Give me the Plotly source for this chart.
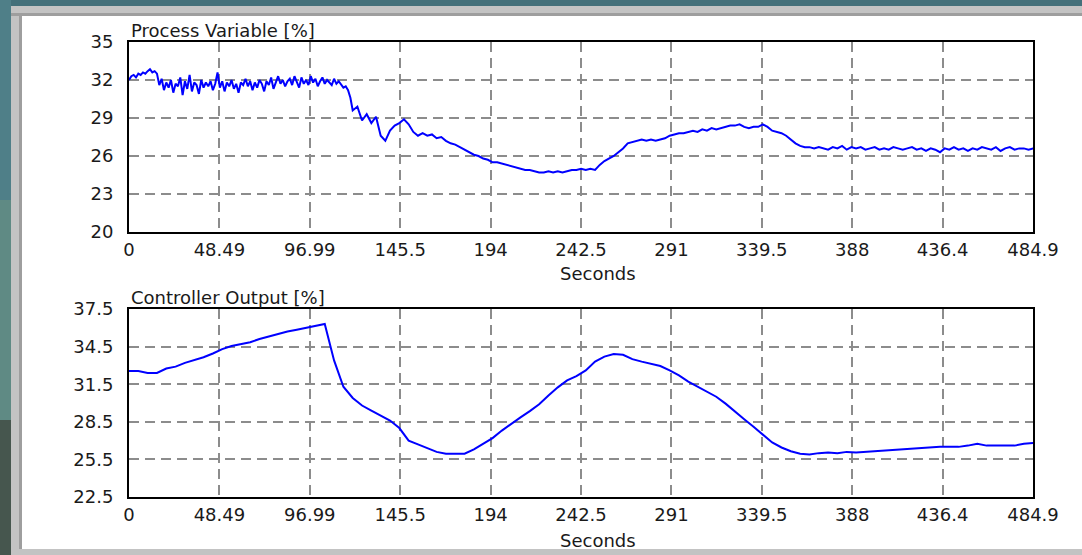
import plotly.graph_objects as go

# ---- data -------------------------------------------------------------
# process variable: fast sampling during the first two minutes, then slower
PV_FAST_DT = 1.25
PV_SLOW_DT = 2.5
PV_SLOW_START = 120.0
CO_DT = 5.0

pv_fast = [
    32.0, 32.3, 32.4, 32.2, 32.5, 32.4, 32.6, 32.5, 32.7, 32.85,
    32.6, 32.7, 32.5,
    31.6, 32.1, 31.2, 31.8, 31.4, 32.0, 31.0, 31.7, 31.5, 32.2,
    30.8, 31.9, 31.3, 32.4, 31.1, 31.8, 31.6, 30.9, 32.0, 31.4,
    31.8, 31.5, 31.9, 31.2, 31.7, 32.6, 31.4, 31.9, 31.1, 31.8,
    31.5, 32.0, 31.3, 31.7, 31.0, 31.8, 31.6, 32.1, 31.5, 31.9,
    31.2, 31.8, 31.4, 32.0, 31.7, 31.1, 31.9, 31.6, 32.2, 31.3,
    31.8, 32.3, 31.7, 32.0, 31.5, 31.9, 32.1, 31.6, 32.3, 31.8,
    31.4, 32.2, 31.7, 32.0, 31.6, 32.3, 31.8, 32.1, 31.5, 31.9,
    32.2, 31.7, 32.0, 31.8, 31.6, 32.1, 31.7, 31.9, 31.6, 31.4,
    31.5, 31.2, 30.6,
]

pv_slow = [
    29.6, 29.9, 28.8, 29.3, 28.6, 29.1, 27.6, 27.2, 28.0, 28.4,
    28.6, 28.9, 28.5, 27.9, 27.6, 27.8, 27.6, 27.7, 27.4, 27.5,
    27.2, 27.0, 26.9, 26.7, 26.5, 26.3, 26.1, 26.0, 25.8, 25.7,
    25.5, 25.5, 25.4, 25.3, 25.2, 25.1, 25.0, 24.9, 24.9, 24.8,
    24.7, 24.7, 24.8, 24.7, 24.8, 24.7, 24.8, 24.9, 24.9, 25.0,
    24.9, 25.0, 24.9, 25.3, 25.6, 25.8, 26.0, 26.3, 26.6, 27.0,
    27.1, 27.2, 27.3, 27.2, 27.3, 27.2, 27.3, 27.4, 27.6, 27.7,
    27.8, 27.8, 27.9, 28.0, 27.9, 28.1, 28.0, 28.2, 28.1, 28.2,
    28.3, 28.4, 28.4, 28.5, 28.3, 28.2, 28.3, 28.3, 28.5, 28.3,
    28.0, 27.9, 27.8, 27.6, 27.3, 27.0, 26.8, 26.7, 26.7, 26.6,
    26.7, 26.6, 26.5, 26.7, 26.6, 26.8, 26.5, 26.7, 26.6, 26.7,
    26.5, 26.6, 26.7, 26.5, 26.6, 26.5, 26.7, 26.6, 26.5, 26.6,
    26.7, 26.5, 26.6, 26.4, 26.6, 26.5, 26.3, 26.6, 26.5, 26.7,
    26.5, 26.6, 26.4, 26.6, 26.5, 26.7, 26.6, 26.5, 26.7, 26.4,
    26.6, 26.7, 26.5, 26.6, 26.6, 26.5, 26.6,
]

controller_output = [
    32.55, 32.55, 32.4, 32.4, 32.75, 32.9, 33.2, 33.4, 33.65, 33.95,
    34.3, 34.55, 34.7, 34.85, 35.1, 35.3, 35.55, 35.7, 35.85, 36.0,
    36.1, 36.3, 33.4, 31.3, 30.4, 29.8, 29.4, 29.0, 28.6, 28.0,
    27.0, 26.7, 26.4, 26.1, 25.95, 25.93, 25.95, 26.3, 26.75, 27.2,
    27.8, 28.35, 28.85, 29.35, 29.9, 30.6, 31.25, 31.8, 32.15, 32.6,
    33.3, 33.7, 33.9, 33.85, 33.5, 33.3, 33.15, 32.95, 32.6, 32.2,
    31.7, 31.3, 30.9, 30.5, 29.95, 29.3, 28.7, 28.1, 27.5, 26.85,
    26.45, 26.15, 25.95, 25.9, 26.0, 26.05, 26.0, 26.1, 26.05, 26.1,
    26.15, 26.2, 26.25, 26.3, 26.35, 26.45, 26.45, 26.5, 26.5, 26.5,
    26.6, 26.75, 26.6, 26.6, 26.55, 26.6, 26.75, 26.8,
]

time_pv = ([i * PV_FAST_DT for i in range(len(pv_fast))]
           + [PV_SLOW_START + i * PV_SLOW_DT for i in range(len(pv_slow))])
process_variable = pv_fast + pv_slow
time_co = [i * CO_DT for i in range(len(controller_output))]

x_max = 484.9
x_tick_text = ["0", "48.49", "96.99", "145.5", "194", "242.5",
               "291", "339.5", "388", "436.4", "484.9"]
pv_ticks = [20, 23, 26, 29, 32, 35]
co_ticks = [22.5, 25.5, 28.5, 31.5, 34.5, 37.5]

# ---- page geometry (pixels) -------------------------------------------
W, H = 1082, 555
FONT = "DejaVu Sans"


def fx(px):
    return px / W


def fy(py):
    return 1 - py / H


fig = go.Figure()

fig.add_trace(go.Scatter(x=time_pv, y=process_variable, mode="lines",
                         line=dict(color="#0000ff", width=2),
                         xaxis="x", yaxis="y", showlegend=False))
fig.add_trace(go.Scatter(x=time_co, y=controller_output, mode="lines",
                         line=dict(color="#0000ff", width=2),
                         xaxis="x2", yaxis="y2", showlegend=False))

x_ticks = [i * x_max / 10 for i in range(11)]

common_x = dict(range=[0, x_max], tickmode="array", tickvals=x_ticks,
                ticktext=x_tick_text, showline=True, mirror=True,
                linecolor="black", linewidth=2, showgrid=True,
                gridcolor="#8c8c8c", gridwidth=2, griddash="10px,6px",
                zeroline=False, ticks="", ticklabelstandoff=0,
                automargin=False,
                tickfont=dict(family=FONT, size=18, color="#1a1a1a"),
                fixedrange=True)
common_y = dict(showline=True, mirror=True, linecolor="black", linewidth=2,
                showgrid=True, gridcolor="#8c8c8c", gridwidth=2,
                griddash="10px,6px", zeroline=False, ticks="",
                ticklabelstandoff=10, tickmode="array", automargin=False,
                tickfont=dict(family=FONT, size=18, color="#1a1a1a"),
                fixedrange=True)

fig.update_layout(
    width=W, height=H,
    margin=dict(l=0, r=0, t=0, b=0, autoexpand=False),
    paper_bgcolor="#44707a",
    plot_bgcolor="white",
    xaxis=dict(domain=[fx(129), fx(1033)], anchor="y", **common_x),
    yaxis=dict(domain=[fy(232), fy(42)], anchor="x", range=[20, 35],
               tickvals=pv_ticks, **common_y),
    xaxis2=dict(domain=[fx(129), fx(1033)], anchor="y2", **common_x),
    yaxis2=dict(domain=[fy(497), fy(309)], anchor="x2", range=[22.5, 37.5],
                tickvals=co_ticks, **common_y),
)

# window background: desktop strip, grey frame, white client area
shapes = [
    dict(x0=0, x1=11, y0=0, y1=200, color="#4f7f88"),
    dict(x0=0, x1=11, y0=200, y1=420, color="#5f8a84"),
    dict(x0=0, x1=11, y0=420, y1=555, color="#46564e"),
    dict(x0=11, x1=W, y0=6, y1=H, color="#c3c3c3"),
    dict(x0=11, x1=W, y0=13, y1=16, color="#9e9e9e"),
    dict(x0=19, x1=22, y0=13, y1=549, color="#9e9e9e"),
    dict(x0=22, x1=W, y0=16, y1=549, color="white"),
]
for s in shapes:
    fig.add_shape(type="rect", xref="paper", yref="paper",
                  x0=fx(s["x0"]), x1=fx(s["x1"]),
                  y0=fy(s["y1"]), y1=fy(s["y0"]),
                  fillcolor=s["color"], line=dict(width=0), layer="below")

labels = [
    dict(text="Process Variable [%]", x=129, y=31, xanchor="left"),
    dict(text="Controller Output [%]", x=129, y=297, xanchor="left"),
    dict(text="Seconds", x=598, y=273, xanchor="center"),
    dict(text="Seconds", x=598, y=540, xanchor="center"),
]
for a in labels:
    fig.add_annotation(text=a["text"], xref="paper", yref="paper",
                       x=fx(a["x"]), y=fy(a["y"]), xanchor=a["xanchor"],
                       yanchor="middle", showarrow=False,
                       font=dict(family=FONT, size=18, color="#1a1a1a"))

fig.write_html("out.html")
